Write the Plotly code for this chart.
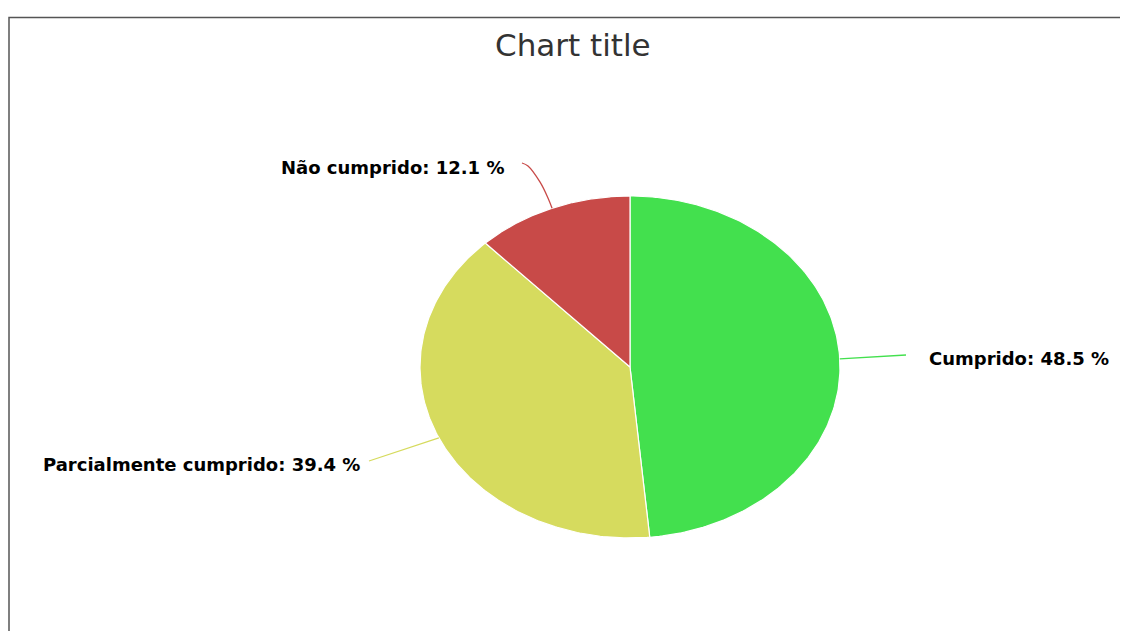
import numpy as np
import plotly.graph_objects as go

# ---- data ----
categories = ["Cumprido", "Parcialmente cumprido", "Não cumprido"]
values = [48.5, 39.4, 12.1]
colors = ["#43E04E", "#D6DB5E", "#C84A48"]
title_text = "Chart title"

# ---- geometry (layout, pixels) ----
PW, PH = 1128, 631          # page viewport
OFF = 8                     # page body margin
W, H = PW - OFF, PH - OFF   # figure size so it fits in the viewport
cx, cy, rx, ry = 630, 367, 210, 171
# label anchors (x, y, xanchor) and connector end points
label_pos = [(927, 358, "left"), (362, 464, "right"), (506, 167, "right")]
conn_end = [(906, 355), (369, 461), (522, 163)]

fig = go.Figure()

total = sum(values)
start = 0.0
mids = []
for cat, v, col in zip(categories, values, colors):
    a0 = start / total * 2 * np.pi
    a1 = (start + v) / total * 2 * np.pi
    t = np.linspace(a0, a1, 200)
    xs = np.concatenate([[cx], cx + rx * np.sin(t), [cx]])
    ys = np.concatenate([[cy], cy - ry * np.cos(t), [cy]])
    fig.add_trace(go.Scatter(x=xs, y=ys, fill="toself", fillcolor=col, mode="lines",
                             line=dict(color="white", width=1.2), name=cat,
                             hoverinfo="skip", showlegend=False))
    mids.append((a0 + a1) / 2)
    start += v

# connectors and labels
for i, (cat, v, col) in enumerate(zip(categories, values, colors)):
    m = mids[i]
    ex, ey = cx + rx * np.sin(m), cy - ry * np.cos(m)
    tx, ty = conn_end[i]
    if i == 2:
        px = [ex, ex - 4, ex - 12, tx + 6, tx]
        py = [ey, ey - 10, ey - 26, ty + 3, ty]
        shape = "spline"
    else:
        px = [ex, tx]
        py = [ey, ty]
        shape = "linear"
    fig.add_trace(go.Scatter(x=px, y=py, mode="lines", line=dict(color=col, width=1.3, shape=shape),
                             hoverinfo="skip", showlegend=False))
    lx, ly, anc = label_pos[i]
    fig.add_annotation(x=lx, y=ly, xref="x", yref="y", text=f"<b>{cat}: {v} %</b>",
                       showarrow=False, xanchor=anc, yanchor="middle",
                       font=dict(family="DejaVu Sans", size=18, color="#000000"))

fig.add_annotation(x=573, y=45, xref="x", yref="y", text=title_text, showarrow=False,
                   xanchor="center", yanchor="middle",
                   font=dict(family="DejaVu Sans", size=31, color="#333333"))

# frame border (left and top edges visible)
fig.add_shape(type="rect", x0=OFF + 1, y0=17.5, x1=PW + 20, y1=PH + 20, xref="x", yref="y",
              line=dict(color="#555555", width=1.5), fillcolor="rgba(0,0,0,0)")

fig.update_layout(width=W, height=H, margin=dict(l=0, r=0, t=0, b=0),
                  paper_bgcolor="white", plot_bgcolor="white", showlegend=False,
                  xaxis=dict(range=[OFF, PW], visible=False, fixedrange=True),
                  yaxis=dict(range=[PH, OFF], visible=False, fixedrange=True))

fig.write_html("out.html", config={"displayModeBar": False})
